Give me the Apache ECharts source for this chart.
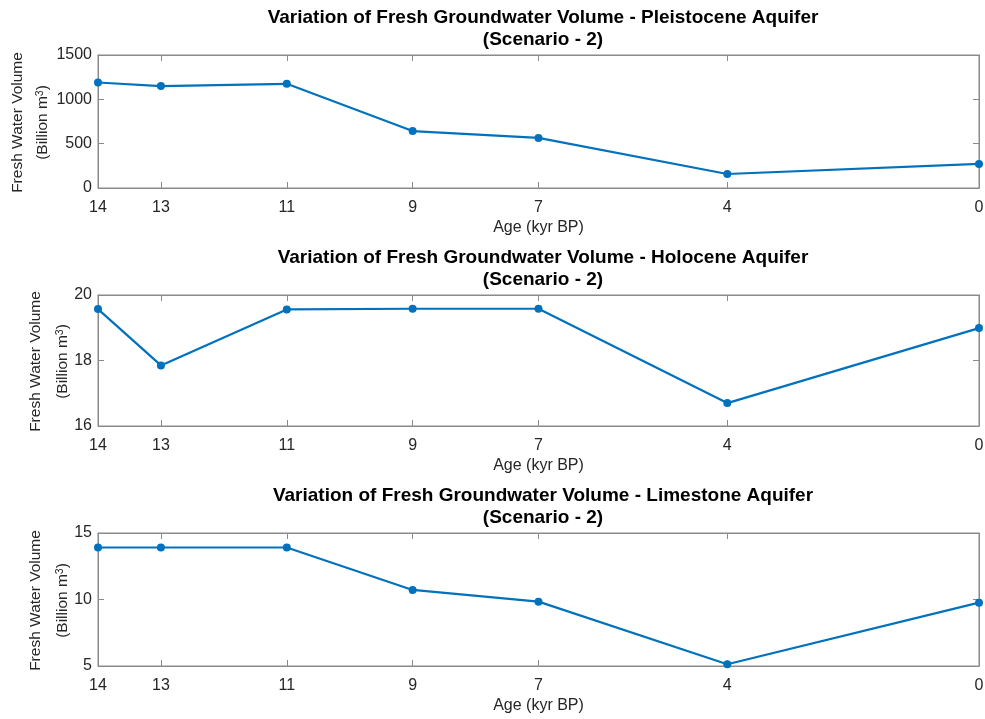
<!DOCTYPE html>
<html>
<head>
<meta charset="utf-8">
<script src="https://cdn.jsdelivr.net/npm/echarts@6/dist/echarts.min.js"></script>
<style>html,body{margin:0;padding:0;background:#fff}#c{width:985px;height:719px}</style>
</head>
<body>
<div id="c"></div>
<script>
const ages = [14, 13, 11, 9, 7, 4, 0];
const xTicks = [14, 13, 11, 9, 7, 4, 0];
const pleistocene = [1190, 1150, 1175, 642, 565, 158, 271];
const holocene = [19.57, 17.85, 19.56, 19.58, 19.58, 16.70, 18.99];
const limestone = [13.91, 13.91, 13.91, 10.72, 9.84, 5.13, 9.76];
const titles = [
  'Variation of Fresh Groundwater Volume - Pleistocene Aquifer\n(Scenario - 2)',
  'Variation of Fresh Groundwater Volume - Holocene Aquifer\n(Scenario - 2)',
  'Variation of Fresh Groundwater Volume - Limestone Aquifer\n(Scenario - 2)'
];
const yRanges = [[0, 1500, 500], [16, 20, 2], [5, 15, 5]];
const xName = 'Age (kyr BP)';
const yName1 = 'Fresh Water Volume';
const yName2 = '(Billion m{sup|3})';

const FONT = '"Liberation Sans", Arial, sans-serif';
const TXT = '#262626';
const AX = '#8a8a8a';
const BLUE = '#0072BD';

const grids = [
  {left: 98, right: 6, top: 55, height: 133},
  {left: 98, right: 6, top: 295, height: 131},
  {left: 98, right: 6, top: 533, height: 133}
];
const nameX = [[18, 43], [36, 63], [36, 63]];
const allValues = [pleistocene, holocene, limestone];

const graphics = [];
grids.forEach((g, i) => {
  const cy = g.top + g.height / 2 + 1;
  graphics.push({
    type: 'text', x: nameX[i][0], y: cy, rotation: Math.PI / 2,
    style: {text: yName1, font: '15.5px ' + FONT, fill: TXT, align: 'center', verticalAlign: 'middle'}
  });
  graphics.push({
    type: 'text', x: nameX[i][1], y: cy, rotation: Math.PI / 2,
    style: {text: yName2, font: '15.5px ' + FONT, fill: TXT, align: 'center', verticalAlign: 'middle',
      rich: {sup: {font: '10.5px ' + FONT, fill: TXT, verticalAlign: 'top', padding: [0, 0, 6, 0]}}}
  });
});

const option = {
  animation: false,
  backgroundColor: '#fff',
  title: titles.map((t, i) => ({
    text: t,
    left: 538,
    top: grids[i].top - 53,
    textAlign: 'center',
    textStyle: {fontFamily: FONT, fontSize: 19, fontWeight: 'bold', color: '#000', lineHeight: 22}
  })),
  grid: grids.map(g => Object.assign({show: true, borderColor: AX, borderWidth: 1, backgroundColor: 'transparent',
    containLabel: false, outerBoundsMode: 'none'}, g)),
  graphic: graphics,
  xAxis: [],
  yAxis: [],
  series: []
};

for (let i = 0; i < 3; i++) {
  option.xAxis.push({
    type: 'value', gridIndex: i, min: 0, max: 14, inverse: true, position: 'bottom',
    name: xName, nameLocation: 'middle', nameGap: 32,
    nameTextStyle: {fontFamily: FONT, fontSize: 16, color: TXT},
    axisLine: {show: true, onZero: false, lineStyle: {color: AX, width: 1}},
    axisTick: {show: true, inside: true, length: 6, customValues: xTicks, lineStyle: {color: AX}},
    axisLabel: {show: true, customValues: xTicks, margin: 12, fontFamily: FONT, fontSize: 16, color: TXT},
    splitLine: {show: false}
  });
  option.xAxis.push({
    type: 'value', gridIndex: i, min: 0, max: 14, inverse: true, position: 'top',
    axisLine: {show: true, onZero: false, lineStyle: {color: AX, width: 1}},
    axisTick: {show: true, inside: true, length: 6, customValues: xTicks, lineStyle: {color: AX}},
    axisLabel: {show: false},
    splitLine: {show: false}
  });
  const r = yRanges[i];
  option.yAxis.push({
    type: 'value', gridIndex: i, min: r[0], max: r[1], interval: r[2], position: 'left',
    axisLine: {show: true, onZero: false, lineStyle: {color: AX, width: 1}},
    axisTick: {show: true, inside: true, length: 6, lineStyle: {color: AX}},
    axisLabel: {show: true, margin: 6, fontFamily: FONT, fontSize: 16, color: TXT, formatter: v => String(v)},
    splitLine: {show: false}
  });
  option.yAxis.push({
    type: 'value', gridIndex: i, min: r[0], max: r[1], interval: r[2], position: 'right',
    axisLine: {show: true, onZero: false, lineStyle: {color: AX, width: 1}},
    axisTick: {show: true, inside: true, length: 6, lineStyle: {color: AX}},
    axisLabel: {show: false},
    splitLine: {show: false}
  });
  option.series.push({
    type: 'line', xAxisIndex: i * 2, yAxisIndex: i * 2,
    data: ages.map((a, k) => [a, allValues[i][k]]),
    symbol: 'circle', symbolSize: 8,
    itemStyle: {color: BLUE},
    lineStyle: {color: BLUE, width: 2.2},
    clip: false
  });
}

const chart = echarts.init(document.getElementById('c'), null, {renderer: 'canvas'});
chart.setOption(option);
</script>
</body>
</html>
